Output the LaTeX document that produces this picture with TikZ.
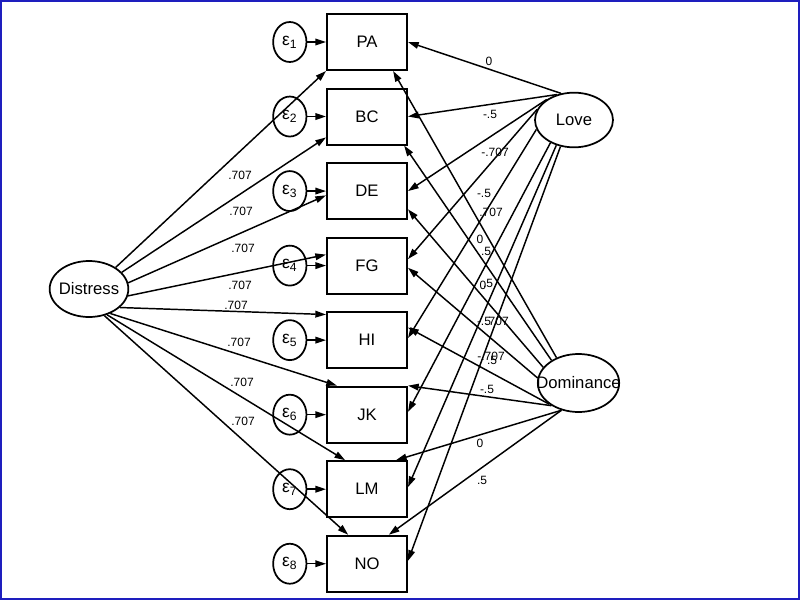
\documentclass[tikz,border=0pt]{standalone}
\usepackage{fontspec}
\setmainfont{Liberation Sans}
\usepackage{xcolor}
\usepackage{tikz}
\usetikzlibrary{arrows.meta, positioning, shapes.geometric}
\definecolor{framebl}{RGB}{30,30,190}
\newcommand{\wide}[1]{\makebox[0pt]{#1}}

\begin{document}
\begin{tikzpicture}[
  x=0.75pt, y=-0.75pt,
  node distance=12.4pt and 14pt,
  obs/.style={draw, line width=1.5pt, minimum width=60pt, minimum height=42pt,
    inner sep=0pt, font=\fontsize{12.5}{14}\selectfont},
  lat/.style={draw, ellipse, line width=1.3pt, minimum width=59pt, minimum height=42pt,
    inner sep=0pt, font=\fontsize{12.5}{14}\selectfont},
  err/.style={draw, ellipse, line width=1.3pt, minimum width=25pt, minimum height=30pt,
    inner sep=0pt, font=\fontsize{13}{14}\selectfont},
  wt/.style={inner sep=0pt, font=\fontsize{9}{10}\selectfont},
  arr/.style={-{Triangle[length=8pt, width=5pt]}, line width=1.1pt}
]
\useasboundingbox (0,0) rectangle (800,600);
\draw[framebl, line width=1.8pt] (1.2,1.2) rectangle (798.8,598.8);

\node[obs] (PA) at (367,42) {PA};
\node[obs, below=of PA] (BC) {BC};
\node[obs, below=of BC] (DE) {DE};
\node[obs, below=of DE] (FG) {FG};
\node[obs, below=of FG] (HI) {HI};
\node[obs, below=of HI] (JK) {JK};
\node[obs, below=of JK] (LM) {LM};
\node[obs, below=of LM] (NO) {NO};

\node[err, left=of PA] (e1) {ε\textsubscript{1}};
\node[err, left=of BC] (e2) {ε\textsubscript{2}};
\node[err, left=of DE] (e3) {ε\textsubscript{3}};
\node[err, left=of FG] (e4) {ε\textsubscript{4}};
\node[err, left=of HI] (e5) {ε\textsubscript{5}};
\node[err, left=of JK] (e6) {ε\textsubscript{6}};
\node[err, left=of LM] (e7) {ε\textsubscript{7}};
\node[err, left=of NO] (e8) {ε\textsubscript{8}};

\node[lat] (Distress) at (89,289) {\wide{Distress}};
\node[lat, minimum width=58.5pt, minimum height=41pt] (Love) at (574,120) {\wide{Love}};
\node[lat, minimum width=61pt, minimum height=43.5pt] (Dominance) at (578.5,383) {\wide{Dominance}};

\draw[arr] (e1) -- (PA);
\draw[arr] (e2) -- (BC);
\draw[arr] (e3) -- (DE);
\draw[arr] (e4) -- (FG);
\draw[arr] (e5) -- (HI);
\draw[arr] (e6) -- (JK);
\draw[arr] (e7) -- (LM);
\draw[arr] (e8) -- (NO);

\draw[arr] (Distress.39) -- (PA.south west);
\draw[arr] (Distress.27) -- (BC.207);
\draw[arr] (Distress.9) -- (DE.186);
\draw[arr] (Distress.350) -- (FG.165);
\draw[arr] (Distress.329) -- (HI.148);
\draw[arr] (Distress.311) -- (JK.136);
\draw[arr] (Distress.305) -- (LM.127);
\draw[arr] (Distress.300) -- (NO.123);

\draw[arr] (Love.116) -- (PA.east);
\draw[arr] (Love.124) -- (BC.east);
\draw[arr] (Love.143) -- (DE.east);
\draw[arr] (Love.164) -- (FG.9);
\draw[arr] (Love.194) -- (HI.3);
\draw[arr] (Love.224) -- (JK.4);
\draw[arr] (Love.235) -- (LM.3);
\draw[arr] (Love.243) -- (NO.4);

\draw[arr] (Dominance.131) -- (PA.312);
\draw[arr] (Dominance.140) -- (BC.322);
\draw[arr] (Dominance.156) -- (DE.336);
\draw[arr] (Dominance.173) -- (FG.357);
\draw[arr] (Dominance.216) -- (HI.17);
\draw[arr] (Dominance.220) -- (JK.north east);
\draw[arr] (Dominance.238) -- (LM.45);
\draw[arr] (Dominance.238) -- (NO.53);

\node[wt] (dPA) at (240,175) {.707};
\node[wt] (dBC) at (241,211) {.707};
\node[wt] (dDE) at (243,248) {.707};
\node[wt] (dFG) at (240,285) {.707};
\node[wt] (dHI) at (236,305) {.707};
\node[wt] (dJK) at (239,342) {.707};
\node[wt] (dLM) at (242,382) {.707};
\node[wt] (dNO) at (243,421) {.707};

\node[wt] (lPA) at (489,61) {0};
\node[wt] (lBC) at (490,114) {-.5};
\node[wt] (lDE) at (495,152) {-.707};
\node[wt] (lFG) at (484,193) {-.5};
\node[wt] (lHI) at (491,212) {.707};
\node[wt] (lJK) at (480,239) {0};
\node[wt] (lLM) at (486,251) {.5};
\node[wt] (lNO) at (488,283) {.5};

\node[wt] (mPA) at (483,285) {0};
\node[wt] (mBC) at (484,321) {-.5};
\node[wt] (mDE) at (497,321) {.707};
\node[wt] (mFG) at (491,356) {-.707};
\node[wt] (mHI) at (492,360) {.5};
\node[wt] (mJK) at (487,389) {-.5};
\node[wt] (mLM) at (480,443) {0};
\node[wt] (mNO) at (482,480) {.5};
\end{tikzpicture}
\end{document}
